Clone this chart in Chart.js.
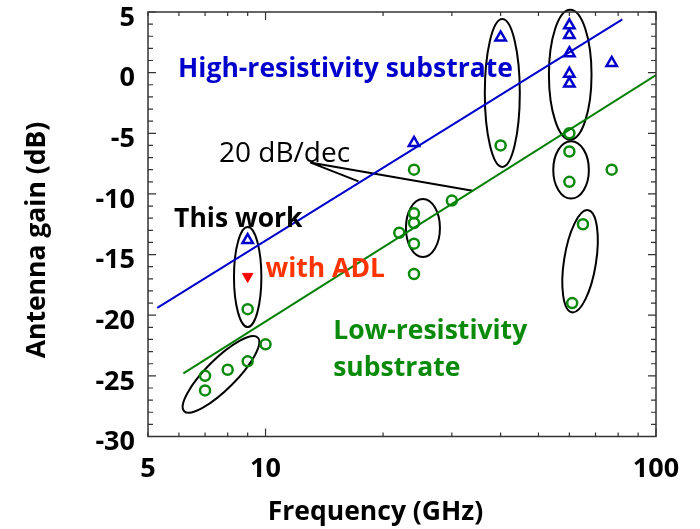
<!DOCTYPE html>
<html>
<head>
<meta charset="utf-8">
<script src="https://cdn.jsdelivr.net/npm/chart.js@4.4.1/dist/chart.umd.min.js"></script>
<style>
  html, body { margin: 0; padding: 0; background: #fff; }
  #wrap { width: 700px; height: 529px; }
</style>
</head>
<body>
<div id="wrap"><canvas id="grafico" width="700" height="529"></canvas></div>
<script>
// Datos (GHz, dB)
const highFreq = [24, 40, 60, 60, 60, 60, 60, 77];
const highGain = [-5.8, 2.9, 3.9, 3.1, 1.6, -0.1, -0.9, 0.8];

const lowFreq = [7, 7, 8, 9, 10, 22, 24, 24, 24, 24, 24, 30, 40, 60, 60, 60, 65, 61, 77];
const lowGain = [-25.0, -26.2, -24.5, -23.8, -22.4, -13.2, -11.6, -12.4, -14.1, -16.6, -8.0, -10.55, -6.0, -5.0, -6.5, -9.0, -12.5, -19.0, -8.0];

// Este trabajo (9 GHz)
const thisWorkFreq = [9];
const thisWorkHigh = [-13.8];
const thisWorkAdl = [-16.8];
const thisWorkLow = [-19.5];

// Rectas de 20 dB/dec
const highFitFreq = [5.28, 82];
const highFitGain = [-19.4, 4.4];
const lowFitFreq = [6.16, 100];
const lowFitGain = [-24.8, -0.2];

// Flechas de la etiqueta "20 dB/dec"
const slopeFreq = [17.3, 13.0, 33.9];
const slopeGain = [-8.96, -7.4, -9.73];

// Marcas de los ejes
const xTicks = [5, 6, 7, 8, 9, 10, 20, 30, 40, 50, 60, 70, 80, 90, 100];
const xLabeled = [5, 10, 100];

const AZUL = '#0000cc';
const VERDE = '#0a8a0a';
const FUENTE = '"Open Sans"';

function pares(xs, ys) {
  return xs.map((x, i) => ({ x: x, y: ys[i] }));
}

// Elipses que agrupan medidas (centro en datos, radios en px)
const elipses = [
  { f: 9, g: -16.85, rx: 13.7, ry: 50, rot: 0 },
  { f: 7.69, g: -24.88, rx: 52, ry: 15, rot: -45 },
  { f: 25.3, g: -12.8, rx: 17, ry: 29, rot: 0 },
  { f: 40.4, g: -1.68, rx: 17.5, ry: 74, rot: 0 },
  { f: 60.3, g: -0.17, rx: 21.3, ry: 65, rot: 0 },
  { f: 60.6, g: -8.02, rx: 17.8, ry: 28.7, rot: 0 },
  { f: 63.9, g: -15.55, rx: 16, ry: 51.7, rot: 9 }
];

// Textos dentro del grafico (posicion en datos: izquierda, linea base)
const textos = [
  { t: 'High-resistivity substrate', f: 5.97, g: -0.34, color: AZUL, font: 'bold 26.5px ' + FUENTE },
  { t: '20 dB/dec', f: 7.6, g: -7.34, color: '#000', font: '28px ' + FUENTE },
  { t: 'This work', f: 5.83, g: -12.69, color: '#000', font: 'bold 26.5px ' + FUENTE },
  { t: 'with ADL', f: 10.0, g: -16.81, color: '#ff3300', font: 'bold 26.5px ' + FUENTE },
  { t: 'Low-resistivity', f: 14.9, g: -22.0, color: VERDE, font: 'bold 26.5px ' + FUENTE },
  { t: 'substrate', f: 14.9, g: -25.05, color: VERDE, font: 'bold 26.5px ' + FUENTE }
];

const extras = {
  id: 'extras',
  beforeDatasetsDraw(chart) {
    const { ctx, scales: { x, y } } = chart;
    ctx.save();
    ctx.strokeStyle = '#000';
    ctx.lineWidth = 2;
    elipses.forEach(e => {
      ctx.beginPath();
      ctx.ellipse(x.getPixelForValue(e.f), y.getPixelForValue(e.g), e.rx, e.ry, e.rot * Math.PI / 180, 0, Math.PI * 2);
      ctx.stroke();
    });
    ctx.restore();
  },
  afterDraw(chart) {
    const { ctx, chartArea: a, scales: { x, y } } = chart;
    ctx.save();

    // marco
    ctx.strokeStyle = '#333';
    ctx.lineWidth = 1.5;
    ctx.strokeRect(a.left, a.top, a.right - a.left, a.bottom - a.top);

    // marcas hacia dentro en los cuatro lados
    ctx.lineWidth = 1.2;
    ctx.beginPath();
    xTicks.forEach(v => {
      const px = x.getPixelForValue(v);
      const len = (v === 10 || v === 100) ? 8 : 4;
      ctx.moveTo(px, a.bottom); ctx.lineTo(px, a.bottom - len);
      ctx.moveTo(px, a.top); ctx.lineTo(px, a.top + len);
    });
    for (let v = -30; v <= 5; v++) {
      const py = y.getPixelForValue(v);
      const len = v % 5 === 0 ? 8 : 5;
      ctx.moveTo(a.left, py); ctx.lineTo(a.left + len, py);
      ctx.moveTo(a.right, py); ctx.lineTo(a.right - len, py);
    }
    ctx.stroke();

    // textos
    ctx.textBaseline = 'alphabetic';
    ctx.textAlign = 'left';
    textos.forEach(t => {
      ctx.font = t.font;
      ctx.fillStyle = t.color;
      ctx.fillText(t.t, x.getPixelForValue(t.f), y.getPixelForValue(t.g));
    });

    // titulos de los ejes
    ctx.fillStyle = '#000';
    ctx.font = 'bold 26.5px ' + FUENTE;
    ctx.textAlign = 'center';
    ctx.fillText('Frequency (GHz)', 375.5, 520);
    ctx.translate(45, 240);
    ctx.rotate(-Math.PI / 2);
    ctx.fillText('Antenna gain (dB)', 0, 0);
    ctx.restore();
  }
};

new Chart(document.getElementById('grafico').getContext('2d'), {
  type: 'scatter',
  data: {
    datasets: [
      {
        data: pares(highFitFreq, highFitGain), showLine: true, pointRadius: 0,
        borderColor: AZUL, borderWidth: 2
      },
      {
        data: pares(lowFitFreq, lowFitGain), showLine: true, pointRadius: 0,
        borderColor: '#008000', borderWidth: 2
      },
      {
        data: pares(slopeFreq, slopeGain), showLine: true, pointRadius: 0,
        borderColor: '#000', borderWidth: 2
      },
      {
        data: pares(highFreq, highGain).concat(pares(thisWorkFreq, thisWorkHigh)),
        pointStyle: 'triangle', pointRadius: 6, borderColor: AZUL, borderWidth: 2.5,
        backgroundColor: 'rgba(0,0,0,0)'
      },
      {
        data: pares(lowFreq, lowGain).concat(pares(thisWorkFreq, thisWorkLow)),
        pointStyle: 'circle', pointRadius: 5, borderColor: VERDE, borderWidth: 2.5,
        backgroundColor: 'rgba(0,0,0,0)'
      },
      {
        data: pares(thisWorkFreq, thisWorkAdl),
        pointStyle: 'triangle', rotation: 180, pointRadius: 6, borderColor: '#ff0000', borderWidth: 1,
        backgroundColor: '#ff0000'
      }
    ]
  },
  options: {
    responsive: false,
    animation: false,
    events: [],
    layout: { padding: { top: 12, right: 44, left: 0, bottom: 0 } },
    plugins: { legend: { display: false }, tooltip: { enabled: false } },
    scales: {
      x: {
        type: 'logarithmic', min: 5, max: 100,
        afterBuildTicks: s => { s.ticks = xTicks.map(v => ({ value: v })); },
        afterFit: s => { s.height = 92.5; s.paddingLeft = 0; s.paddingRight = 0; },
        grid: { display: false, drawTicks: false },
        border: { display: false },
        ticks: {
          autoSkip: false, maxRotation: 0, padding: 17, color: '#000',
          font: { family: FUENTE, weight: 'bold', size: 27 },
          callback: v => xLabeled.includes(v) ? String(v) : ''
        }
      },
      y: {
        min: -30, max: 5,
        afterFit: s => { s.width = 148; s.paddingTop = 0; s.paddingBottom = 0; },
        grid: { display: false, drawTicks: false },
        border: { display: false },
        ticks: {
          stepSize: 1, autoSkip: false, padding: 13, labelOffset: 6, color: '#000',
          font: { family: FUENTE, weight: 'bold', size: 27 },
          callback: v => v % 5 === 0 ? String(v) : ''
        }
      }
    }
  },
  plugins: [extras]
});
</script>
</body>
</html>
